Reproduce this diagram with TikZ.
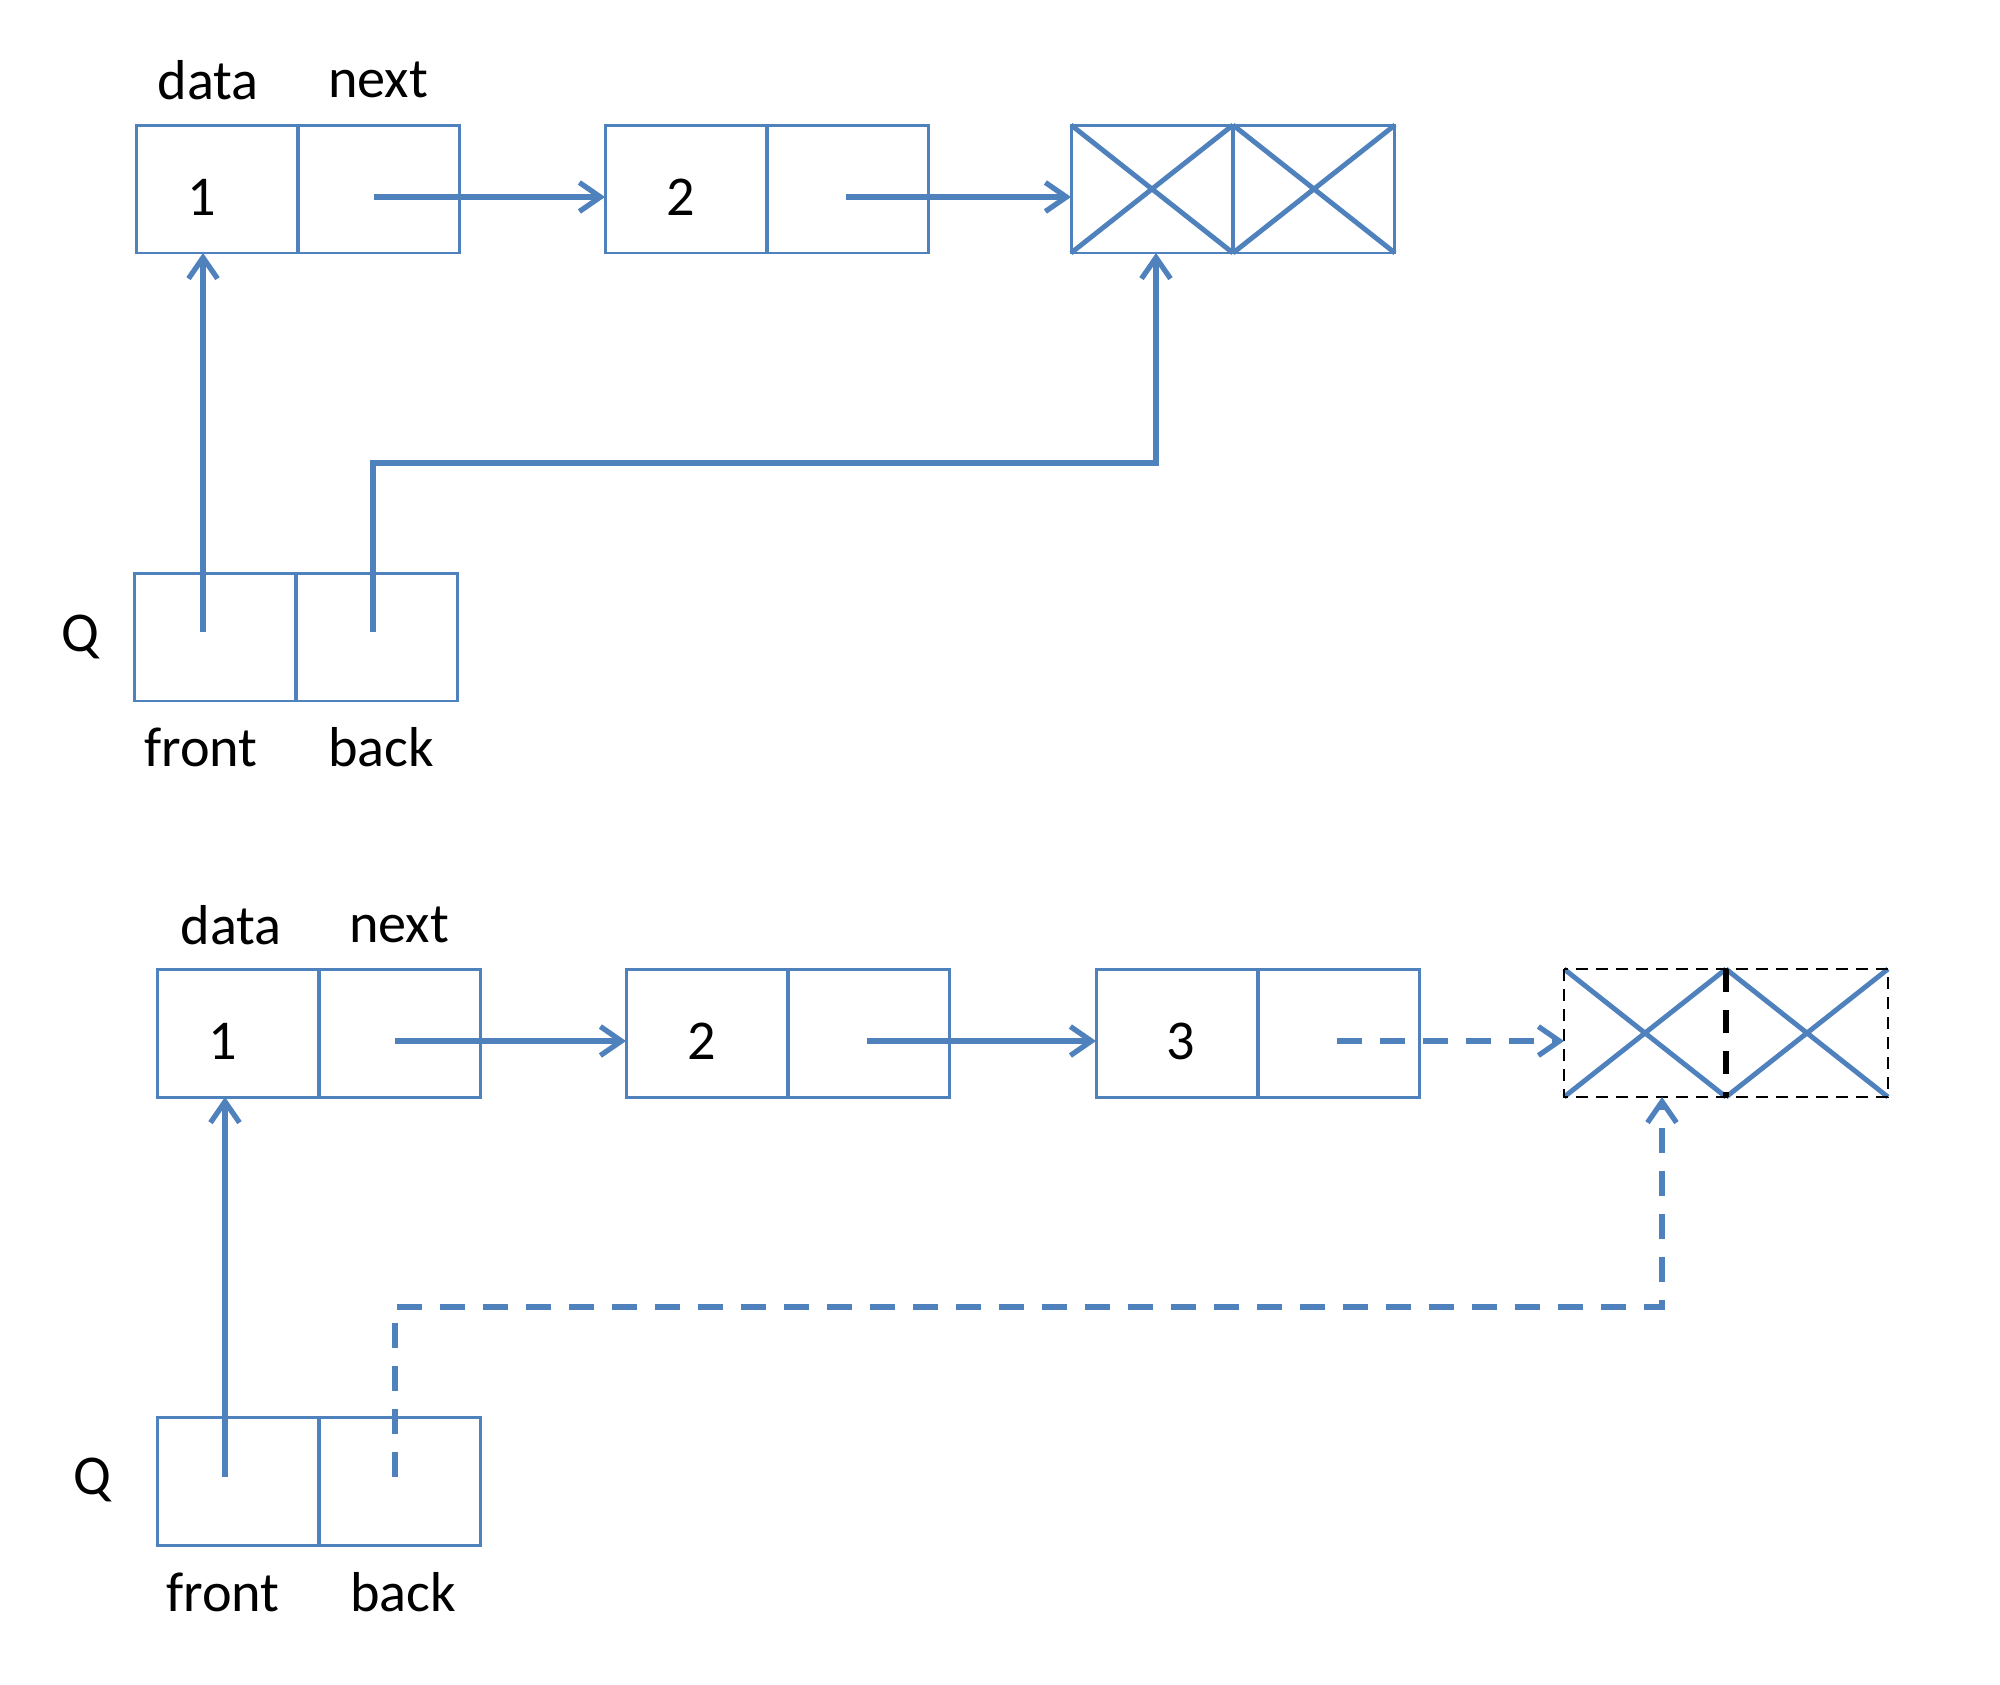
\documentclass[tikz,border=0pt]{standalone}
\usepackage{fontspec}
\setmainfont{Carlito}
\usepackage{xcolor}
\usepackage{tikz}
\usetikzlibrary{arrows.meta,positioning,calc}
\definecolor{cellblue}{RGB}{79,129,189}
\tikzstyle{cell} = [draw=cellblue, line width=1.7pt, minimum width=3.24cm, minimum height=2.56cm, inner sep=0pt, outer sep=0pt]
\tikzstyle{nullcell} = [cell, draw=none]
\tikzstyle{lbl} = [font=\fontsize{32}{38}\selectfont]
\tikzstyle{sep} = [draw=cellblue, line width=2.8pt]
\tikzstyle{cross} = [draw=cellblue, line width=2.8pt]
\tikzstyle{line} = [draw=cellblue, line width=3pt, -{Straight Barb[length=0.42cm,width=0.58cm]}]
\tikzstyle{dline} = [line, dash pattern=on 0.5cm off 0.36cm]

\begin{document}
\begin{tikzpicture}[x=0.02cm,y=-0.02cm]
   		\useasboundingbox (0,0) rectangle (2000,1684);
   		%%% first queue
   		\node[cell] (d1) at (217,189) {};                 % data
   		\node[cell,right=0pt of d1] (n1) {};               % next
   		\node[cell] (d2) at (686,189) {};
   		\node[cell,right=0pt of d2] (n2) {};
   		\node[cell] (x1) at (1152,189) {};                 % null node
   		\node[cell,right=0pt of x1] (y1) {};
   		\node[cell] (qf1) at (215,637) {};                 % front
   		\node[cell,right=0pt of qf1] (qb1) {};             % back
   		\draw[sep] (d1.north east) -- (d1.south east);
   		\draw[sep] (d2.north east) -- (d2.south east);
   		\draw[sep] (x1.north east) -- (x1.south east);
   		\draw[sep] (qf1.north east) -- (qf1.south east);
   		\draw[cross] (x1.north west) -- (x1.south east) (x1.south west) -- (x1.north east);
   		\draw[cross] (y1.north west) -- (y1.south east) (y1.south west) -- (y1.north east);
   		\node[lbl] (v1) at ($(d1.center)+(-15,8)$) {1};
   		\node[lbl] (v2) at ($(d2.center)+(-5,8)$) {2};
   		\node[lbl] (data1) at (208,80) {data};
   		\node[lbl] (next1) at (378,80) {next};
   		\node[lbl] (q1) at (80,637) {Q};
   		\node[lbl] (front1) at (201,747) {front};
   		\node[lbl] (back1) at (381,747) {back};
   		\coordinate (fp1) at ($(qf1.center)+(-12,-5)$);   % front pointer
   		\coordinate (bp1) at ($(qb1.center)+(-4,-5)$);    % back pointer
   		\draw[line] ($(n1.center)+(-5,8)$) -- ($(d2.west)+(0,8)$);
   		\draw[line] ($(n2.center)+(-2,8)$) -- ($(x1.west)+(0,8)$);
   		\draw[line] (fp1) -- (fp1 |- d1.south);
   		\draw[line] (bp1) |- ($(x1.south)+(4,210)$) -- ($(x1.south)+(4,0)$);
   		%%% second queue
   		\node[cell] (d3) at (238,1033) {};
   		\node[cell,right=0pt of d3] (n3) {};
   		\node[cell] (d4) at (707,1033) {};
   		\node[cell,right=0pt of d4] (n4) {};
   		\node[cell] (d5) at (1177,1033) {};
   		\node[cell,right=0pt of d5] (n5) {};
   		\node[nullcell] (x2) at (1645,1033) {};            % new null node
   		\node[nullcell,right=0pt of x2] (y2) {};
   		\node[cell] (qf2) at (238,1481) {};
   		\node[cell,right=0pt of qf2] (qb2) {};
   		\draw[sep] (d3.north east) -- (d3.south east);
   		\draw[sep] (d4.north east) -- (d4.south east);
   		\draw[sep] (d5.north east) -- (d5.south east);
   		\draw[sep] (qf2.north east) -- (qf2.south east);
   		\draw[cross] (x2.north west) -- (x2.south east) (x2.south west) -- (x2.north east);
   		\draw[cross] (y2.north west) -- (y2.south east) (y2.south west) -- (y2.north east);
   		\draw[black, line width=1.5pt, dash pattern=on 0.24cm off 0.16cm] (x2.north west) rectangle (y2.south east);
   		\draw[black, line width=3.4pt, dash pattern=on 0.46cm off 0.36cm] (x2.north east) -- (x2.south east);
   		\node[lbl] (v3) at ($(d3.center)+(-15,8)$) {1};
   		\node[lbl] (v4) at ($(d4.center)+(-5,8)$) {2};
   		\node[lbl] (v5) at ($(d5.center)+(4,8)$) {3};
   		\node[lbl] (data2) at (231,925) {data};
   		\node[lbl] (next2) at (399,925) {next};
   		\node[lbl] (q2) at (92,1480) {Q};
   		\node[lbl] (front2) at (223,1592) {front};
   		\node[lbl] (back2) at (403,1592) {back};
   		\coordinate (fp2) at ($(qf2.center)+(-13,-4)$);
   		\coordinate (bp2) at ($(qb2.center)+(-5,-4)$);
   		\coordinate (xb2) at ($(x2.south)+(17,0)$);       % new back target
   		\draw[line] ($(n3.center)+(-5,8)$) -- ($(d4.west)+(0,8)$);
   		\draw[line] ($(n4.center)+(-2,8)$) -- ($(d5.west)+(0,8)$);
   		\draw[dline] ($(n5.center)+(-2,8)$) -- ($(x2.west)+(0,8)$);
   		\draw[line] (fp2) -- (fp2 |- d3.south);
   		\draw[dline] (bp2) |- ($(xb2)+(0,210)$) -- (xb2);
\end{tikzpicture}
\end{document}
